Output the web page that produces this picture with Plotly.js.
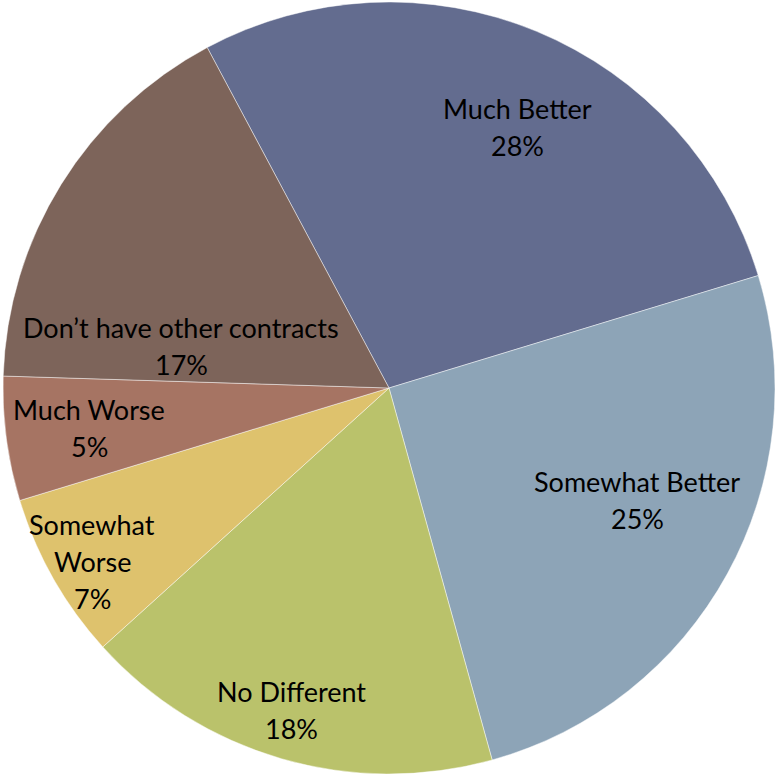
<!DOCTYPE html>
<html>
<head>
<meta charset="utf-8">
<script src="https://cdn.plot.ly/plotly-3.0.1.min.js"></script>
<style>html,body{margin:0;padding:0;background:#fff;}#chart{width:775px;height:774px;}</style>
</head>
<body>
<div id="chart"></div>
<script>
const categories = ["Much Better", "Somewhat Better", "No Different", "Somewhat Worse", "Much Worse", "Don’t have other contracts"];
const shares = [28.1, 25.4, 17.6, 7.0, 5.2, 16.7];
const shareLabels = ["28%", "25%", "18%", "7%", "5%", "17%"];
const sliceColors = ["#636C8F", "#8DA4B7", "#BAC26B", "#DEC26D", "#A67463", "#7D645A"];

// label placement (pixel centres of each label block) and line wrapping
const W = 775, H = 774;
const labelCentres = [[517, 127], [637, 500], [291, 710], [92, 561], [89, 428], [181, 346]];
const wrapLabel = [false, false, false, true, false, false];
const linePitch = 37;
const labelFont = { family: "Lato, 'Open Sans', sans-serif", size: 27, color: "#000" };

const annotations = [];
categories.forEach((cat, i) => {
  const lines = (wrapLabel[i] ? cat.split(" ") : [cat]).concat([shareLabels[i]]);
  const [cx, cy] = labelCentres[i];
  lines.forEach((ln, k) => {
    const py = cy + (k - (lines.length - 1) / 2) * linePitch;
    annotations.push({
      xref: "paper", yref: "paper",
      x: cx / W, y: 1 - py / H,
      xanchor: "center", yanchor: "middle",
      text: ln, showarrow: false, font: labelFont
    });
  });
});

const trace = {
  type: "pie",
  labels: categories,
  values: shares,
  text: shareLabels,
  sort: false,
  direction: "clockwise",
  rotation: -28.1,
  marker: { colors: sliceColors, line: { color: "rgba(255,255,255,0.45)", width: 1 } },
  textinfo: "none",
  hoverinfo: "label+text",
  domain: { x: [0.0039, 1], y: [0, 0.9974] },
  showlegend: false
};

const layout = {
  width: W, height: H,
  margin: { l: 0, r: 0, t: 0, b: 0 },
  paper_bgcolor: "#fff",
  showlegend: false,
  annotations: annotations
};

Plotly.newPlot("chart", [trace], layout, { displayModeBar: false, staticPlot: true });
</script>
</body>
</html>
